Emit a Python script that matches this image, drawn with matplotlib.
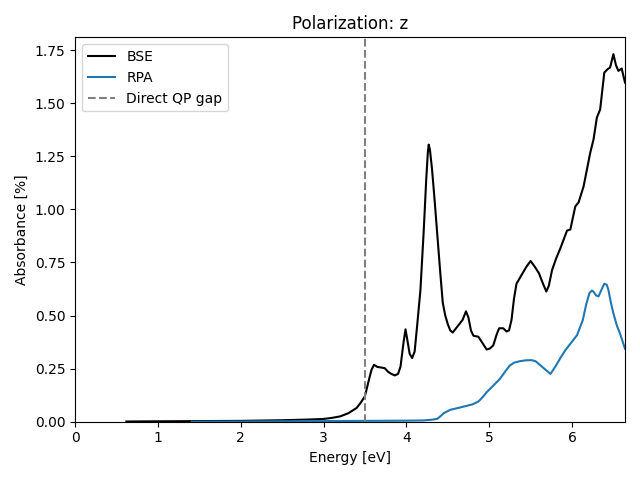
import numpy as np
import matplotlib
matplotlib.use("Agg")
import matplotlib.pyplot as plt

# BSE absorbance spectrum (energy in eV, absorbance in %)
bse_energy = [0.62, 1.0, 1.5, 2.0, 2.5, 2.8, 3.0, 3.1, 3.2, 3.3, 3.4, 3.45, 3.5,
              3.55, 3.58, 3.61, 3.65, 3.7, 3.74, 3.78, 3.82, 3.86, 3.9, 3.93,
              3.965, 3.99, 4.01, 4.04, 4.07, 4.1, 4.13, 4.17, 4.21, 4.24, 4.26,
              4.27, 4.285, 4.31, 4.34, 4.37, 4.41, 4.44, 4.47, 4.5, 4.53, 4.56,
              4.6, 4.64, 4.68, 4.72, 4.75, 4.78, 4.81, 4.87, 4.92, 4.97, 5.01,
              5.05, 5.09, 5.12, 5.17, 5.21, 5.24, 5.27, 5.3, 5.33, 5.39, 5.45,
              5.5, 5.55, 5.6, 5.65, 5.69, 5.72, 5.76, 5.81, 5.86, 5.94, 5.98,
              6.04, 6.08, 6.14, 6.22, 6.26, 6.30, 6.34, 6.39, 6.43, 6.46, 6.50,
              6.53, 6.56, 6.60, 6.64]
bse_abs = [0.001, 0.002, 0.003, 0.004, 0.007, 0.010, 0.013, 0.018, 0.025, 0.04,
           0.065, 0.09, 0.12, 0.2, 0.245, 0.268, 0.258, 0.255, 0.252, 0.235,
           0.225, 0.218, 0.225, 0.26, 0.37, 0.435, 0.39, 0.32, 0.30, 0.33,
           0.45, 0.62, 0.90, 1.14, 1.27, 1.305, 1.28, 1.19, 1.05, 0.90, 0.70,
           0.56, 0.50, 0.46, 0.43, 0.42, 0.44, 0.46, 0.48, 0.52, 0.49, 0.43,
           0.405, 0.40, 0.37, 0.34, 0.345, 0.36, 0.41, 0.44, 0.44, 0.425, 0.43,
           0.48, 0.58, 0.65, 0.69, 0.73, 0.757, 0.73, 0.70, 0.65, 0.613, 0.64,
           0.715, 0.77, 0.817, 0.90, 0.905, 1.014, 1.033, 1.108, 1.266, 1.329,
           1.432, 1.47, 1.644, 1.66, 1.668, 1.731, 1.68, 1.652, 1.663, 1.597]

# RPA absorbance spectrum
rpa_energy = [1.41, 2.0, 2.5, 3.0, 3.5, 4.0, 4.2, 4.3, 4.37, 4.41, 4.45, 4.53,
              4.69, 4.8, 4.87, 4.92, 4.97, 5.05, 5.13, 5.2, 5.25, 5.3, 5.37,
              5.44, 5.51, 5.56, 5.62, 5.68, 5.74, 5.8, 5.86, 5.92, 5.98, 6.06,
              6.13, 6.17, 6.21, 6.24, 6.26, 6.29, 6.32, 6.36, 6.39, 6.42, 6.44,
              6.47, 6.50, 6.54, 6.58, 6.64]
rpa_abs = [0.0, 0.001, 0.002, 0.003, 0.004, 0.005, 0.006, 0.009, 0.013, 0.025,
           0.04, 0.056, 0.071, 0.082, 0.095, 0.115, 0.139, 0.17, 0.202, 0.24,
           0.265, 0.278, 0.285, 0.289, 0.29, 0.285, 0.265, 0.245, 0.225, 0.26,
           0.30, 0.337, 0.367, 0.407, 0.478, 0.55, 0.605, 0.618, 0.612, 0.595,
           0.59, 0.625, 0.65, 0.645, 0.62, 0.56, 0.51, 0.455, 0.415, 0.344]

direct_qp_gap = 3.5

fig, ax = plt.subplots(figsize=(6.4, 4.8), dpi=100)
ax.plot(bse_energy, bse_abs, color="black", label="BSE")
ax.plot(rpa_energy, rpa_abs, color="tab:blue", label="RPA")
ax.axvline(direct_qp_gap, color="gray", linestyle="--", label="Direct QP gap")
ax.set_xlim(0, 6.64)
ax.set_ylim(0, 1.81)
ax.set_xlabel("Energy [eV]")
ax.set_ylabel("Absorbance [%]")
ax.set_title("Polarization: z")
ax.legend(loc="upper left")
fig.tight_layout()
fig.savefig("out.png")
